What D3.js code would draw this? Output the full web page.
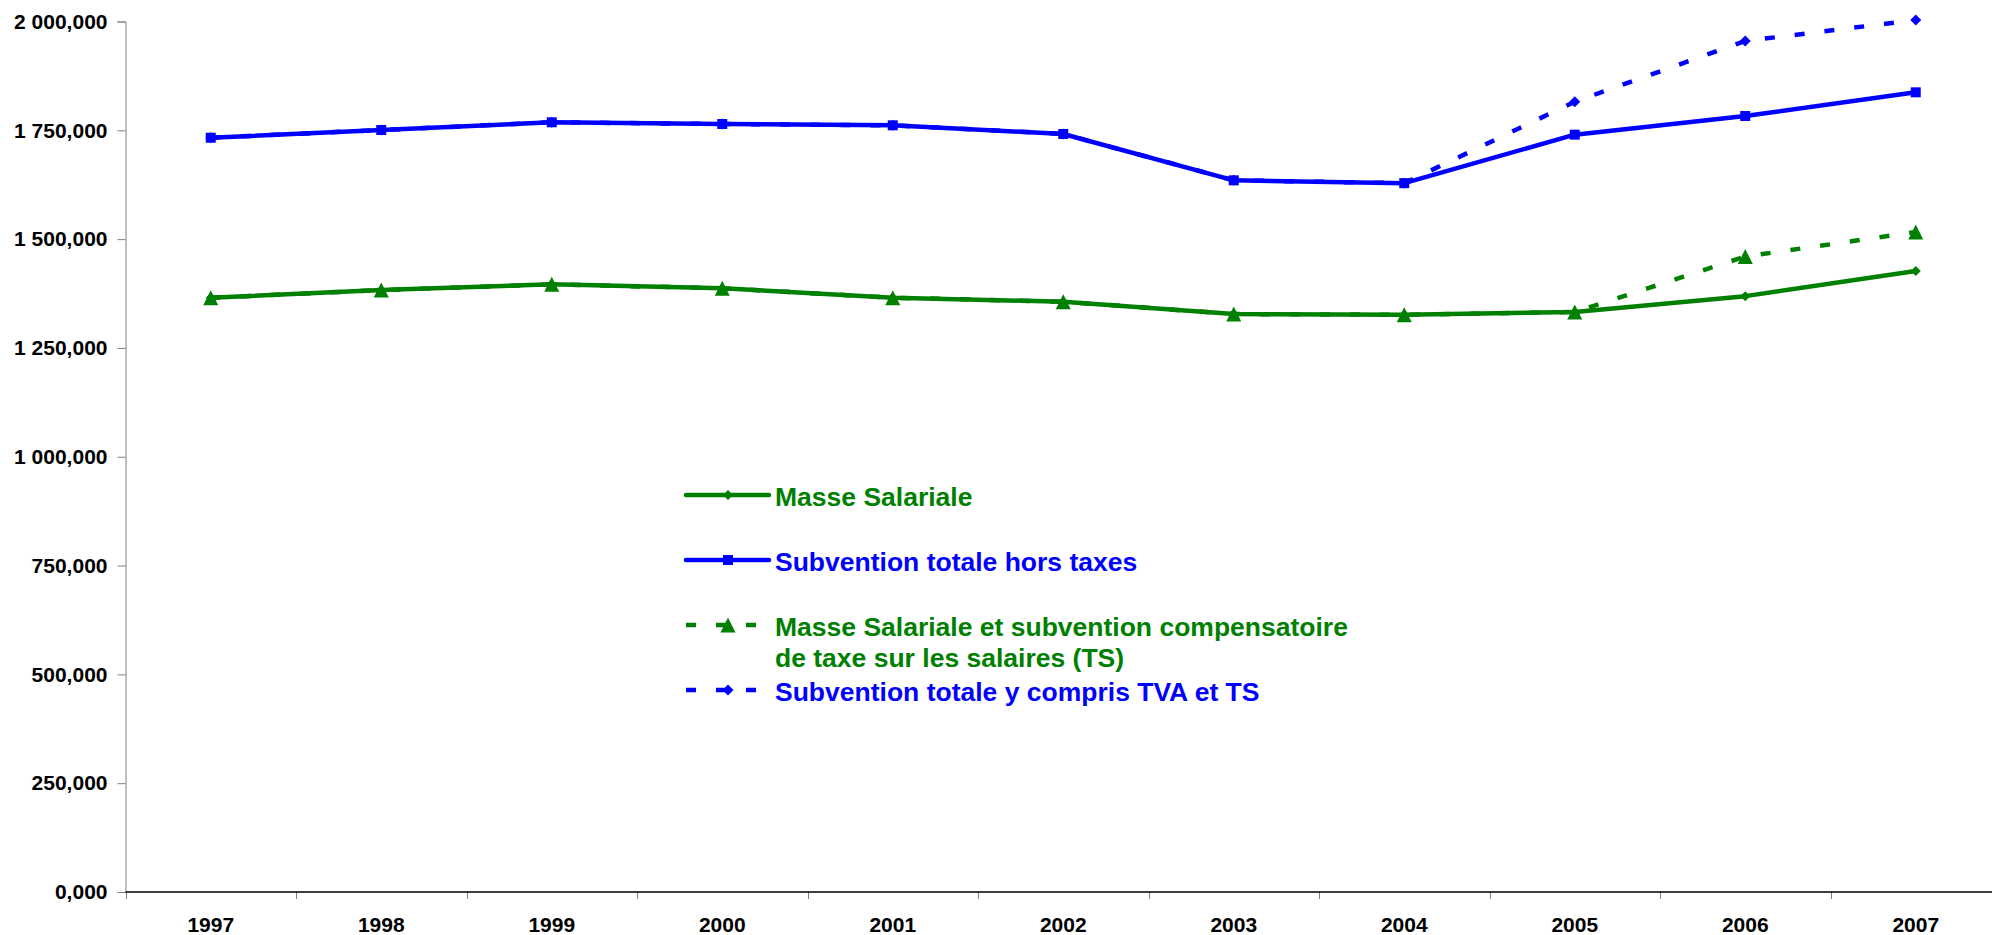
<!DOCTYPE html>
<html>
<head>
<meta charset="utf-8">
<script src="https://cdn.jsdelivr.net/npm/d3@7"></script>
<style>
  body { margin: 0; background: #fff; }
  svg { display: block; font-family: "Liberation Sans", Arial, sans-serif; font-weight: bold; }
</style>
</head>
<body>
<svg id="chart" width="1992" height="935"></svg>
<script>
/* data, in thousands */
var years = ["1997", "1998", "1999", "2000", "2001", "2002", "2003", "2004", "2005", "2006", "2007"];
var masseSalariale = [1365.3, 1383.0, 1396.1, 1387.0, 1365.3, 1356.2, 1327.9, 1326.3, 1332.5, 1369.0, 1426.7];
var subventionHT = [1733.0, 1750.7, 1768.4, 1764.5, 1761.5, 1741.5, 1635.1, 1628.6, 1740.0, 1782.9, 1837.3];
var masseTS = [1365.3, 1383.0, 1396.1, 1387.0, 1365.3, 1356.2, 1327.9, 1326.3, 1332.5, 1460.0, 1516.3];
var subventionTTC = [1733.0, 1750.7, 1768.4, 1764.5, 1761.5, 1741.5, 1635.1, 1628.6, 1815.7, 1955.2, 2003.4];
var yTicks = [0, 250, 500, 750, 1000, 1250, 1500, 1750, 2000];
var seriesNames = [
  ["Masse Salariale"],
  ["Subvention totale hors taxes"],
  ["Masse Salariale et subvention compensatoire", "de taxe sur les salaires (TS)"],
  ["Subvention totale y compris TVA et TS"]
];

var green = "#008000", blue = "#0000ff";

/* marker shapes */
function diamond(s) { var h = s / 2; return "M0," + (-h) + "L" + h + ",0L0," + h + "L" + (-h) + ",0Z"; }
function square(s) { var h = s / 2; return "M" + (-h) + "," + (-h) + "h" + s + "v" + s + "h" + (-s) + "Z"; }
function triangle(s) { var h = s / 2; return "M0," + (-h) + "L" + h + "," + h + "L" + (-h) + "," + h + "Z"; }

var series = [
  {values: masseSalariale, color: green, dash: null, marker: diamond(10)},
  {values: subventionHT, color: blue, dash: null, marker: square(10)},
  {values: masseTS, color: green, dash: "10,20", marker: triangle(15)},
  {values: subventionTTC, color: blue, dash: "10,20", marker: diamond(11)}
];

var svg = d3.select("#chart");

var x = d3.scaleBand().domain(years).range([125.5, 2001]).padding(0);
var y = d3.scaleLinear().domain([0, 2000]).range([892, 21.5]);

var fr = d3.formatLocale({decimal: ",", thousands: " ", grouping: [3], currency: ["", ""]});
var fmt = fr.format(",.3f");

/* y axis */
var yAxis = svg.append("g")
  .attr("transform", "translate(125.5,0)")
  .call(d3.axisLeft(y).tickValues(yTicks).tickFormat(fmt).tickSize(8).tickPadding(10));
yAxis.select(".domain").attr("stroke", "#808080");
yAxis.selectAll(".tick line").attr("stroke", "#808080");
yAxis.selectAll("text").attr("font-size", 21).attr("fill", "#000")
  .attr("font-family", "Liberation Sans, Arial, sans-serif").attr("font-weight", "bold");

/* x axis */
var xAxis = svg.append("g")
  .attr("transform", "translate(0,892)")
  .call(d3.axisBottom(x).tickSize(0).tickPadding(25));
xAxis.select(".domain").remove();
xAxis.selectAll("text").attr("font-size", 21).attr("fill", "#000")
  .attr("font-family", "Liberation Sans, Arial, sans-serif").attr("font-weight", "bold");

var edges = years.map(function(d) { return x(d); }).concat([x.range()[1]]);
svg.append("g").selectAll("line").data(edges).enter().append("line")
  .attr("x1", function(d) { return Math.round(d) + 0.5; })
  .attr("x2", function(d) { return Math.round(d) + 0.5; })
  .attr("y1", 892).attr("y2", 899)
  .attr("stroke", "#808080");
svg.append("line")
  .attr("x1", 125.5).attr("x2", 1992).attr("y1", 892).attr("y2", 892)
  .attr("stroke", "#000").attr("stroke-width", 1.5);

/* lines and markers */
var line = d3.line()
  .x(function(d, i) { return x(years[i]) + x.bandwidth() / 2; })
  .y(function(d) { return y(d); });

series.forEach(function(s) {
  svg.append("path")
    .attr("d", line(s.values))
    .attr("fill", "none")
    .attr("stroke", s.color)
    .attr("stroke-width", 4.5)
    .attr("stroke-linejoin", "round")
    .attr("stroke-dasharray", s.dash);
  svg.append("g").selectAll("path").data(s.values).enter().append("path")
    .attr("d", s.marker)
    .attr("fill", s.color)
    .attr("transform", function(d, i) {
      return "translate(" + (x(years[i]) + x.bandwidth() / 2) + "," + y(d) + ")";
    });
});

/* legend */
var legendY = [495, 560, 625, 690];
series.forEach(function(s, i) {
  var g = svg.append("g").attr("transform", "translate(0," + legendY[i] + ")");
  g.append("line")
    .attr("x1", 686).attr("x2", 769).attr("y1", 0).attr("y2", 0)
    .attr("stroke", s.color).attr("stroke-width", 4.5)
    .attr("stroke-linecap", s.dash ? "butt" : "round")
    .attr("stroke-dasharray", s.dash);
  g.append("path").attr("d", s.marker).attr("fill", s.color)
    .attr("transform", "translate(728,0)");
  seriesNames[i].forEach(function(t, j) {
    g.append("text")
      .attr("x", 775).attr("y", 11 + j * 31)
      .attr("font-size", 26.5)
      .attr("fill", s.color)
      .text(t);
  });
});
</script>
</body>
</html>
